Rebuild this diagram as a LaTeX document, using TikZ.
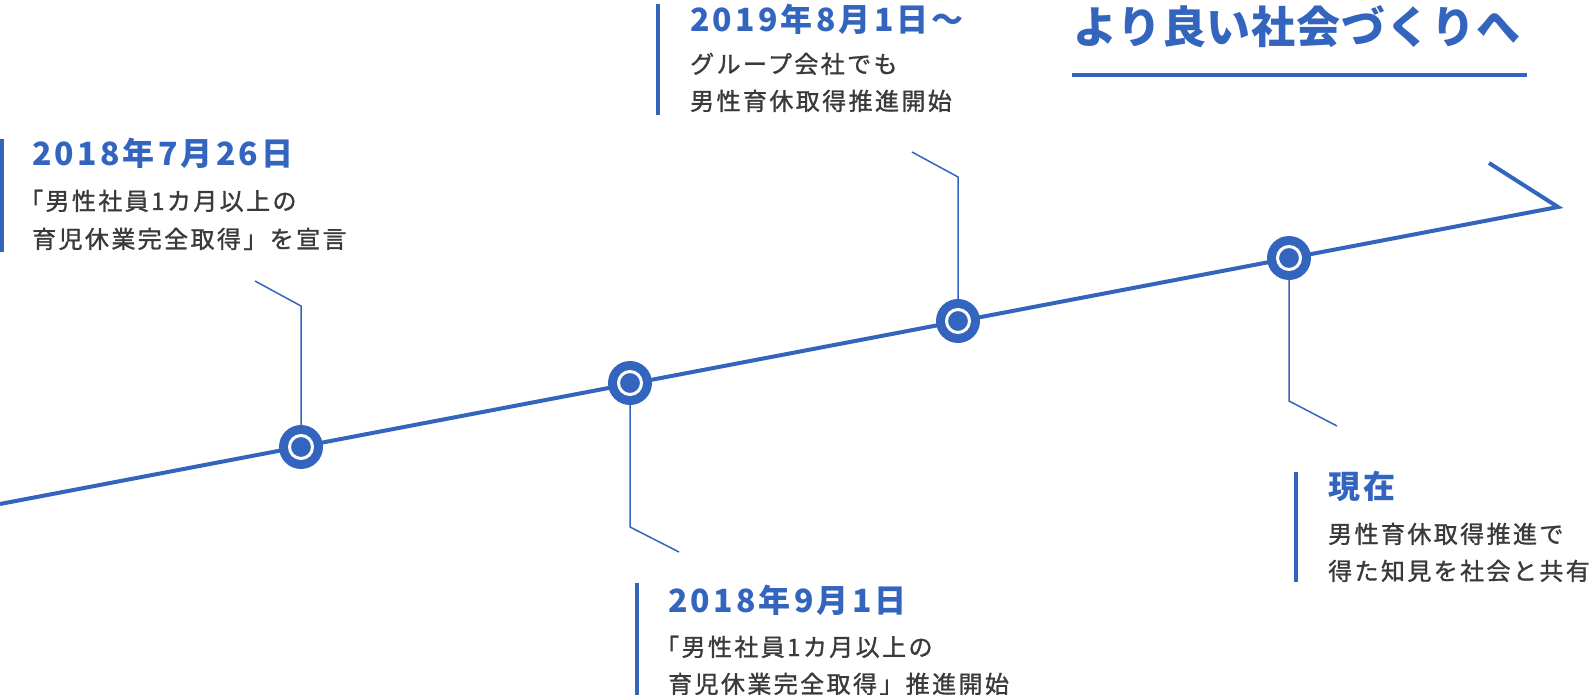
\documentclass[tikz,border=0pt]{standalone}
\usepackage{fontspec}
\setmainfont{Noto Sans CJK JP}[LetterSpace=10]
\newfontfamily\jpmed{Noto Sans CJK JP}[LetterSpace=10, FakeBold=1.2]
\definecolor{tlblue}{HTML}{3465BE}
\definecolor{tltext}{HTML}{3A3A3A}

\begin{document}
\begin{tikzpicture}[x=1pt, y=-1pt,
    stop/.style={circle, fill=tlblue, minimum size=44pt, inner sep=0pt,
        path picture={\draw[white, line width=3pt] (path picture bounding box.center) circle (11.5pt);}},
    date/.style={anchor=base west, inner sep=0pt, text=tlblue, font=\fontsize{32}{32}\selectfont\bfseries},
    body/.style={anchor=base west, inner sep=0pt, text=tltext, font=\fontsize{24}{24}\selectfont\jpmed},
    bar/.style={draw=tlblue, line width=3.5pt},
    leader/.style={draw=tlblue, line width=1.5pt},
    axis/.style={draw=tlblue, line width=4pt}
]
    \useasboundingbox (0,0) rectangle (1590,695);

    % Zeitachse mit Pfeilspitze
    \coordinate (start) at (0,504);
    \coordinate (tip) at (1558,207);
    \coordinate (tail) at (1489,163);
    \draw[axis] (start) -- (tip) -- (tail);

    % Stationen
    \node[stop] (jul26) at (301,447) {};
    \node[stop] (sep1) at (630,383) {};
    \node[stop] (aug1) at (958,321) {};
    \node[stop] (now) at (1289,258) {};

    % Verbindungslinien
    \coordinate (jul26up) at (301,306);
    \coordinate (jul26end) at (255,281);
    \coordinate (sep1down) at (630,527);
    \coordinate (sep1end) at (679,552);
    \coordinate (aug1up) at (958,177);
    \coordinate (aug1end) at (912,152);
    \coordinate (nowdown) at (1289,401);
    \coordinate (nowend) at (1337,426);
    \draw[leader] (jul26) -- (jul26up) -- (jul26end);
    \draw[leader] (sep1) -- (sep1down) -- (sep1end);
    \draw[leader] (aug1) -- (aug1up) -- (aug1end);
    \draw[leader] (now) -- (nowdown) -- (nowend);

    % Ziel oben rechts
    \node[anchor=base west, inner sep=0pt, text=tlblue, font=\fontsize{44}{44}\selectfont\bfseries\addfontfeature{LetterSpace=2}] (goal) at (1073,44) {より良い社会づくりへ};
    \draw[tlblue, line width=4.5pt] (1072,75) -- (1527,75);

    % 2018年7月26日
    \draw[bar] (2,139) -- (2,252);
    \node[date] (jul26date) at (32,166) {2018年7月26日};
    \node[body] (jul26a) at (19,210) {「男性社員1カ月以上の};
    \node[body] (jul26b) at (32,248) {育児休業完全取得」を宣言};

    % 2018年9月1日
    \draw[bar] (637,583) -- (637,695);
    \node[date] (sep1date) at (668,612) {2018年9月1日};
    \node[body] (sep1a) at (655,656) {「男性社員1カ月以上の};
    \node[body] (sep1b) at (668,693) {育児休業完全取得」推進開始};

    % 2019年8月1日〜
    \draw[bar] (658,4) -- (658,115);
    \node[date] (aug1date) at (690,32) {2019年8月1日〜};
    \node[body] (aug1a) at (690,73) {グループ会社でも};
    \node[body] (aug1b) at (690,110) {男性育休取得推進開始};

    % 現在
    \draw[bar] (1296,472) -- (1296,582);
    \node[date] (nowdate) at (1328,498) {現在};
    \node[body] (nowa) at (1328,543) {男性育休取得推進で};
    \node[body] (nowb) at (1328,580) {得た知見を社会と共有};
\end{tikzpicture}
\end{document}
